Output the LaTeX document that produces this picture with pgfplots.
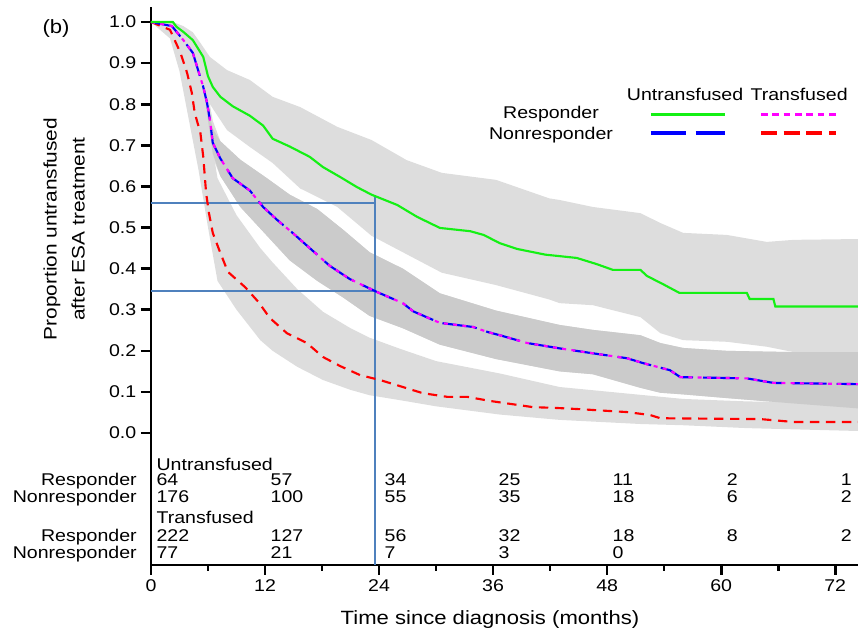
\documentclass[border=0pt]{standalone}
\usepackage{fontspec}
\setmainfont{Liberation Sans}[FakeStretch=1.15]
\usepackage{pgfplots}
\usepackage{pgfplotstable}
\pgfplotsset{compat=1.18}
\usepgfplotslibrary{fillbetween}

\definecolor{cgreen}{RGB}{20,240,20}
\definecolor{cblue}{RGB}{0,0,255}
\definecolor{cmag}{RGB}{255,0,255}
\definecolor{cred}{RGB}{255,0,0}
\definecolor{bandlight}{RGB}{221,221,221}
\definecolor{banddark}{RGB}{203,203,203}
\definecolor{refblue}{RGB}{79,129,189}

\newcommand{\tb}{\fontsize{12.75}{15}\selectfont}

% Untransfused responder
\pgfplotstableread{
t s
0 1.0
2.3 1.0
2.7 0.988
3.4 0.976
4.4 0.956
5.5 0.915
6.0 0.868
6.5 0.842
7.3 0.818
8.6 0.795
10.4 0.772
11.8 0.748
12.8 0.716
14.6 0.697
16.7 0.672
18.1 0.647
19.9 0.623
21.7 0.598
23.2 0.580
25.9 0.555
28.0 0.526
30.4 0.499
33.6 0.491
35.0 0.482
36.7 0.462
38.5 0.448
41.5 0.434
44.8 0.426
46.9 0.411
48.6 0.397
51.5 0.397
52.2 0.382
53.9 0.362
55.6 0.341
62.7 0.341
63.0 0.326
65.5 0.326
65.7 0.308
74.4 0.308
}\greenline

% Untransfused nonresponder / Transfused responder (overlapping)
\pgfplotstableread{
t s
0 1.0
2.2 0.99
3.4 0.956
4.4 0.925
5.5 0.842
5.9 0.803
6.2 0.762
6.5 0.706
7.3 0.668
8.6 0.620
10.4 0.590
11.8 0.550
13.3 0.518
15.0 0.485
16.7 0.450
18.8 0.407
20.9 0.375
22.7 0.355
23.8 0.343
26.5 0.316
27.6 0.296
30.4 0.268
33.9 0.258
35.4 0.246
36.7 0.238
39.6 0.219
43.0 0.206
46.5 0.194
50.1 0.182
51.8 0.170
54.6 0.153
55.7 0.136
62.7 0.133
65.5 0.122
74.4 0.119
}\blueline

% Transfused nonresponder
\pgfplotstableread{
t s
0 1.0
2.0 0.981
3.1 0.925
3.8 0.876
4.3 0.827
4.6 0.779
5.2 0.730
5.5 0.672
5.8 0.584
6.1 0.535
6.5 0.487
7.3 0.438
8.1 0.392
9.9 0.355
11.3 0.319
12.5 0.280
14.3 0.243
16.4 0.219
18.1 0.185
19.9 0.163
22.0 0.141
24.1 0.129
26.5 0.112
28.6 0.097
31.2 0.088
33.3 0.088
35.7 0.078
37.8 0.071
40.2 0.063
42.7 0.061
45.2 0.058
50.1 0.051
52.5 0.044
53.6 0.036
64.1 0.034
67.6 0.027
74.4 0.027
}\redline

\pgfplotstableread{
t up lo
0 1.0 1.0
2.3 1.0 1.0
3.4 0.99 0.96
4.4 0.975 0.93
5.2 0.949 0.875
6.2 0.915 0.80
8.0 0.883 0.737
10.4 0.859 0.696
12.8 0.818 0.657
15.7 0.793 0.595
19.6 0.745 0.55
23.2 0.713 0.48
26.9 0.664 0.435
30.6 0.633 0.39
36.3 0.616 0.36
41.9 0.571 0.325
43.0 0.567 0.316
46.5 0.550 0.311
51.5 0.535 0.282
53.6 0.511 0.243
56.0 0.487 0.226
60.6 0.482 0.222
64.8 0.465 0.210
67.6 0.470 0.197
74.4 0.472 0.197
}\greenband

\pgfplotstableread{
t up lo dup dlo
0 1.0 1.0 1.0 1.0
2.2 1.0 0.985 0.99 0.99
3.4 0.975 0.935 0.956 0.956
4.4 0.955 0.895 0.925 0.925
5.5 0.89 0.80 0.842 0.842
6.5 0.76 0.67 0.74 0.68
7.3 0.71 0.625 0.71 0.625
9.4 0.665 0.55 0.665 0.55
12.2 0.62 0.48 0.62 0.48
14.6 0.58 0.42 0.58 0.42
17.5 0.545 0.37 0.545 0.37
20.2 0.495 0.33 0.495 0.33
23.0 0.440 0.285 0.440 0.285
26.5 0.400 0.255 0.400 0.255
30.4 0.340 0.215 0.340 0.215
36.3 0.298 0.180 0.298 0.180
43.0 0.263 0.150 0.263 0.150
46.5 0.251 0.143 0.251 0.143
51.5 0.238 0.110 0.238 0.110
53.6 0.219 0.098 0.219 0.098
56.0 0.207 0.094 0.207 0.094
60.6 0.200 0.085 0.200 0.085
67.6 0.197 0.072 0.197 0.072
74.4 0.197 0.060 0.197 0.060
}\blueband

\pgfplotstableread{
t up lo
0 1.0 1.0
2.0 1.0 0.96
3.0 0.97 0.88
4.0 0.93 0.76
5.0 0.87 0.64
6.0 0.76 0.50
7.0 0.62 0.37
9.0 0.53 0.30
11.5 0.45 0.226
12.8 0.415 0.20
15.4 0.350 0.161
18.1 0.295 0.129
21.0 0.255 0.105
23.0 0.232 0.092
26.2 0.205 0.080
30.0 0.175 0.065
36.7 0.145 0.045
43.0 0.112 0.032
51.5 0.093 0.022
56.0 0.083 0.019
62.7 0.077 0.012
74.4 0.072 0.005
}\redband

\newcommand{\rn}[3]{\node[anchor=base west, xshift=4pt, font=\tb, inner sep=0pt] at (axis cs:#1,#2) {#3};}
\newcommand{\rl}[2]{\node[anchor=base east, xshift=-10.5pt, font=\tb, inner sep=0pt] at (axis cs:0,#1) {#2};}

\begin{document}
\begin{tikzpicture}
\begin{axis}[
  scale only axis, width=530.25pt, height=418.5pt,
  xmin=0, xmax=74.4, ymin=-0.321, ymax=1.0365,
  axis lines=left,
  axis line style={-, line width=2.2pt, black},
  xtick={0,12,24,36,48,60,72},
  minor xtick={6,18,30,42,54,66},
  ytick={0,0.1,0.2,0.3,0.4,0.5,0.6,0.7,0.8,0.9,1.0},
  tick align=outside,
  major tick length=7.5pt, minor tick length=4.5pt,
  tick style={line width=2pt, black},
  tick label style={font=\tb},
  /pgf/number format/assume math mode=true,
  yticklabel style={/pgf/number format/.cd, fixed, fixed zerofill, precision=1},
  clip=false,
  xlabel={Time since diagnosis (months)},
  xlabel style={at={(axis description cs:0.4795,-0.0986)}, anchor=center, font=\fontsize{14.4}{17}\selectfont},
  ylabel={Proportion untransfused\\after ESA treatment},
  ylabel style={at={(axis description cs:-0.123,0.602)}, anchor=center, align=center, font=\fontsize{13.6}{21}\selectfont},
]
\coordinate (O) at (rel axis cs:0,0);

% confidence bands
\addplot[draw=none, name path=gu, forget plot] table[x=t,y=up]{\greenband};
\addplot[draw=none, name path=gl, forget plot] table[x=t,y=lo]{\greenband};
\addplot[fill=bandlight, draw=none] fill between[of=gu and gl];
\addplot[draw=none, name path=ru, forget plot] table[x=t,y=up]{\redband};
\addplot[draw=none, name path=rlw, forget plot] table[x=t,y=lo]{\redband};
\addplot[fill=bandlight, draw=none] fill between[of=ru and rlw];
\addplot[draw=none, name path=bu, forget plot] table[x=t,y=up]{\blueband};
\addplot[draw=none, name path=bl, forget plot] table[x=t,y=lo]{\blueband};
\addplot[fill=bandlight, draw=none] fill between[of=bu and bl];
\addplot[draw=none, name path=du, forget plot] table[x=t,y=dup]{\blueband};
\addplot[draw=none, name path=dl, forget plot] table[x=t,y=dlo]{\blueband};
\addplot[fill=banddark, draw=none] fill between[of=du and dl];

% reference lines
\addplot[refblue, line width=1.3pt] coordinates {(0,0.56) (23.6,0.56)};
\addplot[refblue, line width=1.3pt] coordinates {(0,0.345) (23.6,0.345)};
\addplot[refblue, line width=1.3pt] coordinates {(23.6,0.575) (23.6,-0.321)};

% survival curves
\addplot[cred, line width=1.6pt, dash pattern=on 7pt off 5pt] table[x=t,y=s]{\redline};
\addplot[cblue, line width=1.6pt, dash pattern=on 26pt off 7.5pt] table[x=t,y=s]{\blueline};
\addplot[cmag, line width=1.6pt, dash pattern=on 3pt off 4pt] table[x=t,y=s]{\blueline};
\addplot[cgreen, line width=1.6pt] table[x=t,y=s]{\greenline};

% legend
\node[anchor=base, font=\tb] at (axis cs:42.1,0.766) {Responder};
\node[anchor=base, font=\tb] at (axis cs:42.1,0.713) {Nonresponder};
\node[anchor=base, font=\tb] at (axis cs:56.2,0.808) {Untransfused};
\node[anchor=base, font=\tb] at (axis cs:68.2,0.808) {Transfused};
\draw[cgreen, line width=2.4pt] (axis cs:52.6,0.774) -- (axis cs:60.4,0.774);
\draw[cblue, line width=2.4pt, dash pattern=on 26pt off 7.5pt] (axis cs:52.6,0.730) -- (axis cs:60.4,0.730);
\draw[cmag, line width=2.4pt, dash pattern=on 5pt off 3.5pt] (axis cs:64.2,0.774) -- (axis cs:72.1,0.774);
\draw[cred, line width=2.4pt, dash pattern=on 12pt off 5pt] (axis cs:64.2,0.730) -- (axis cs:72.1,0.730);

% panel tag
\node[anchor=base, font=\fontsize{14.4}{17}\selectfont, xshift=-71.25pt] at (axis cs:0,0.973) {(b)};

% numbers at risk
\node[anchor=base west, xshift=4pt, font=\tb, inner sep=0pt] at (axis cs:0,-0.090) {Untransfused};
\node[anchor=base west, xshift=4pt, font=\tb, inner sep=0pt] at (axis cs:0,-0.219) {Transfused};
\rl{-0.1265}{Responder}
\rl{-0.170}{Nonresponder}
\rl{-0.263}{Responder}
\rl{-0.304}{Nonresponder}
\rn{0}{-0.1265}{64}\rn{12}{-0.1265}{57}\rn{24}{-0.1265}{34}\rn{36}{-0.1265}{25}\rn{48}{-0.1265}{11}\rn{60}{-0.1265}{2}\rn{72}{-0.1265}{1}
\rn{0}{-0.170}{176}\rn{12}{-0.170}{100}\rn{24}{-0.170}{55}\rn{36}{-0.170}{35}\rn{48}{-0.170}{18}\rn{60}{-0.170}{6}\rn{72}{-0.170}{2}
\rn{0}{-0.263}{222}\rn{12}{-0.263}{127}\rn{24}{-0.263}{56}\rn{36}{-0.263}{32}\rn{48}{-0.263}{18}\rn{60}{-0.263}{8}\rn{72}{-0.263}{2}
\rn{0}{-0.304}{77}\rn{12}{-0.304}{21}\rn{24}{-0.304}{7}\rn{36}{-0.304}{3}\rn{48}{-0.304}{0}
\end{axis}
\pgfresetboundingbox
\path (O) ++(-113.25pt,-52.5pt) rectangle ++(643.5pt,476.25pt);
\end{tikzpicture}
\end{document}
